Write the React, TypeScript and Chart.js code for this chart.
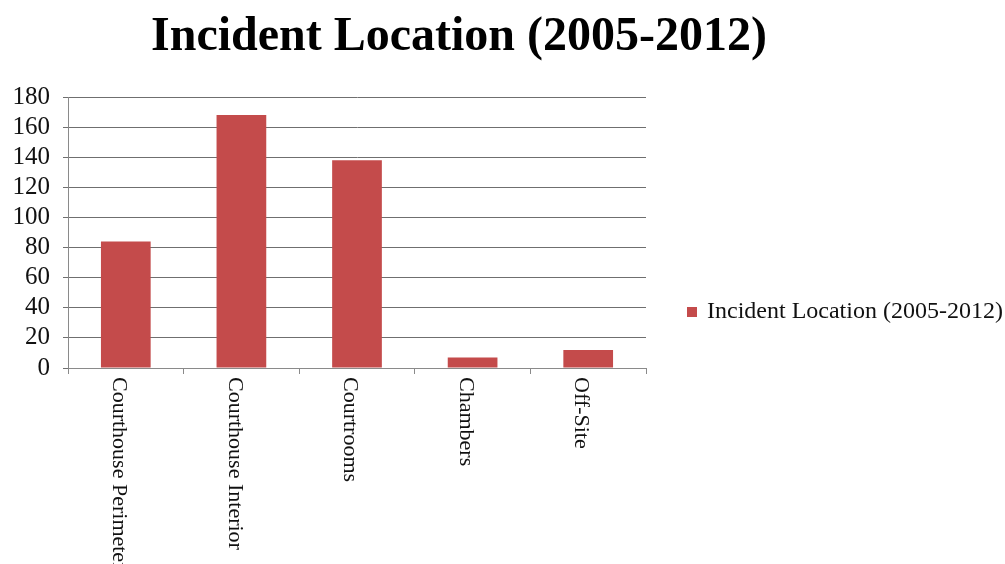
import React, { useEffect, useRef } from "react";
import { Chart, registerables } from "chart.js";

Chart.register(...registerables);

const TITLE = "Incident Location (2005-2012)";
const SERIES_LABEL = "Incident Location (2005-2012)";
const categories = ["Courthouse Perimeter", "Courthouse Interior", "Courtrooms", "Chambers", "Off-Site"];
const values = [84, 168, 138, 7, 12];
const yTicks = [0, 20, 40, 60, 80, 100, 120, 140, 160, 180];

const BAR_COLOR = "#C44B4B";
const SERIF = '"Liberation Serif", "Times New Roman", serif';

const overlayPlugin = {
  id: "overlay",
  afterDraw(chart: any) {
    const ctx = chart.ctx;
    const xs = chart.scales.x;
    const area = chart.chartArea;
    ctx.save();
    // title
    ctx.fillStyle = "#000";
    ctx.font = `bold 48px ${SERIF}`;
    ctx.textAlign = "center";
    ctx.textBaseline = "alphabetic";
    ctx.fillText(TITLE, 459, 50);
    // rotated category labels (reading top to bottom)
    ctx.font = `22px ${SERIF}`;
    ctx.fillStyle = "#111";
    categories.forEach((c, i) => {
      const px = xs.getPixelForValue(i);
      ctx.save();
      ctx.translate(px - 7, area.bottom + 9);
      ctx.rotate(Math.PI / 2);
      ctx.textAlign = "left";
      ctx.textBaseline = "middle";
      ctx.fillText(c, 0, 0);
      ctx.restore();
    });
    // legend
    const ds = chart.data.datasets[0];
    ctx.fillStyle = ds.backgroundColor;
    ctx.fillRect(area.right + 41, 307, 10, 10);
    ctx.fillStyle = "#111";
    ctx.font = `24px ${SERIF}`;
    ctx.textAlign = "left";
    ctx.textBaseline = "middle";
    ctx.fillText(ds.label, area.right + 61, 312);
    ctx.restore();
  },
};

export default function App() {
  const ref = useRef<HTMLCanvasElement | null>(null);
  useEffect(() => {
    if (!ref.current) return;
    const chart = new Chart(ref.current, {
      type: "bar",
      data: {
        labels: categories,
        datasets: [
          {
            label: SERIES_LABEL,
            data: values,
            backgroundColor: BAR_COLOR,
            borderWidth: 0,
            categoryPercentage: 1,
            barPercentage: 0.43,
          },
        ],
      },
      options: {
        responsive: false,
        animation: false,
        layout: { padding: { top: 97, right: 359, left: 0, bottom: 0 } },
        plugins: {
          legend: { display: false },
          title: { display: false },
          tooltip: { enabled: false },
        },
        scales: {
          x: {
            grid: {
              offset: true,
              drawOnChartArea: false,
              drawTicks: true,
              tickLength: 6,
              color: "#8a8a8a",
            },
            border: { color: "#8a8a8a" },
            ticks: { display: false },
            afterFit: (s: any) => {
              s.height = 196;
            },
          },
          y: {
            min: 0,
            max: 180,
            afterBuildTicks: (s: any) => {
              s.ticks = yTicks.map((v) => ({ value: v }));
            },
            ticks: {
              font: { family: SERIF, size: 25 },
              color: "#111",
              padding: 13,
              autoSkip: false,
              stepSize: 20,
            },
            grid: { color: "#6f6f6f", tickLength: 5 },
            border: { color: "#8a8a8a" },
            afterFit: (s: any) => {
              s.width = 68;
            },
          },
        },
      },
      plugins: [overlayPlugin],
    });
    return () => chart.destroy();
  }, []);
  return (
    <div style={{ position: "absolute", left: 0, top: 0, width: 1005, height: 564, background: "#fff" }}>
      <canvas ref={ref} width={1005} height={564} />
    </div>
  );
}
